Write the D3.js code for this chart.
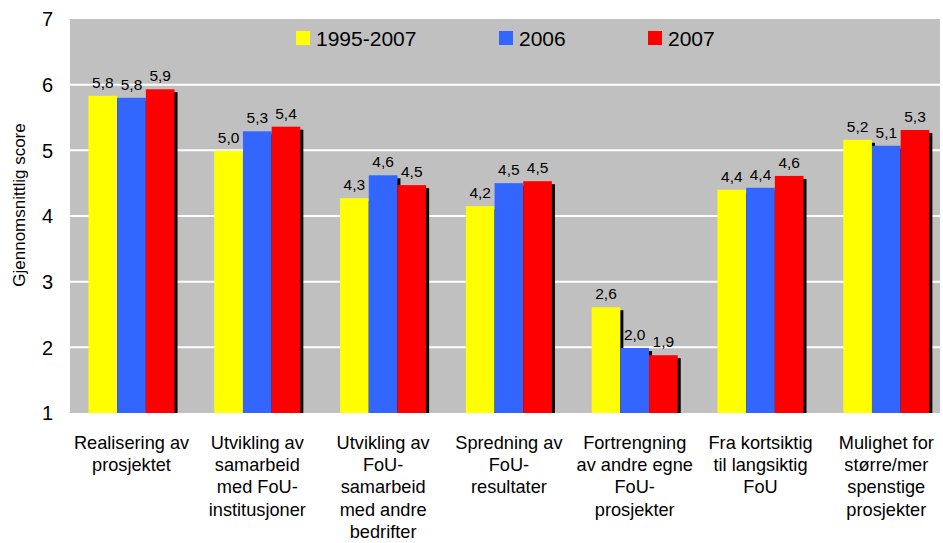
<!DOCTYPE html>
<html>
<head>
<meta charset="utf-8">
<script src="https://cdn.jsdelivr.net/npm/d3@7"></script>
<style>
  body { margin: 0; background: #fff; }
  text { font-family: "Liberation Sans", Arial, sans-serif; fill: #000; }
</style>
</head>
<body>
<div id="chart"></div>
<script>
const categories = [
  ["Realisering av", "prosjektet"],
  ["Utvikling av", "samarbeid", "med FoU-", "institusjoner"],
  ["Utvikling av", "FoU-", "samarbeid", "med andre", "bedrifter"],
  ["Spredning av", "FoU-", "resultater"],
  ["Fortrengning", "av andre egne", "FoU-", "prosjekter"],
  ["Fra kortsiktig", "til langsiktig", "FoU"],
  ["Mulighet for", "større/mer", "spenstige", "prosjekter"]
];
const seriesNames = ["1995-2007", "2006", "2007"];
const seriesColors = ["#ffff00", "#3366ff", "#ff0000"];
const values1995 = [5.83, 4.99, 4.27, 4.15, 2.61, 4.40, 5.16];
const values2006 = [5.80, 5.29, 4.62, 4.50, 1.99, 4.43, 5.07];
const values2007 = [5.93, 5.36, 4.47, 4.53, 1.88, 4.61, 5.31];
const yTicks = [1, 2, 3, 4, 5, 6, 7];

const series = [values1995, values2006, values2007];
const width = 943, height = 543;
const margin = { top: 19, right: 3, bottom: 130, left: 70 };

const svg = d3.select('#chart').append('svg')
  .attr('width', width)
  .attr('height', height);

// category bands run a little past the grey plot area, as in the original
const x = d3.scaleBand()
  .domain(d3.range(categories.length))
  .range([68.6, 949.2])
  .paddingInner(0.316)
  .paddingOuter(0.158);

const xs = d3.scaleBand()
  .domain(d3.range(series.length))
  .range([0, x.bandwidth()]);

const y = d3.scaleLinear()
  .domain([1, 7])
  .range([height - margin.bottom, margin.top]);

// plot background
svg.append('rect')
  .attr('x', margin.left)
  .attr('y', margin.top)
  .attr('width', width - margin.left - margin.right)
  .attr('height', y(1) - y(7))
  .attr('fill', '#c0c0c0');

// gridlines
svg.selectAll('.grid')
  .data(yTicks.filter(t => t > 1 && t < 7))
  .enter().append('line')
  .attr('x1', margin.left)
  .attr('x2', width - margin.right)
  .attr('y1', d => y(d))
  .attr('y2', d => y(d))
  .attr('stroke', '#fff')
  .attr('stroke-width', 2);

// y tick labels
svg.selectAll('.ytick')
  .data(yTicks)
  .enter().append('text')
  .attr('x', 53)
  .attr('y', d => y(d))
  .attr('dy', '0.36em')
  .attr('text-anchor', 'end')
  .style('font-size', '20px')
  .text(d => d);

// y title
svg.append('text')
  .attr('transform', `translate(25, 205) rotate(-90)`)
  .attr('text-anchor', 'middle')
  .style('font-size', '17px')
  .text('Gjennomsnittlig score');

const groups = svg.selectAll('.group')
  .data(categories)
  .enter().append('g')
  .attr('transform', (d, i) => `translate(${x(i)},0)`);

// shadows first, then bars
series.forEach((vals, s) => {
  groups.append('rect')
    .attr('x', (d, i) => xs(s) + 3)
    .attr('y', (d, i) => y(vals[i]) + 3)
    .attr('width', xs.bandwidth())
    .attr('height', (d, i) => y(1) - y(vals[i]) - 3)
    .attr('fill', '#000');
});
series.forEach((vals, s) => {
  groups.append('rect')
    .attr('x', xs(s))
    .attr('y', (d, i) => y(vals[i]))
    .attr('width', xs.bandwidth())
    .attr('height', (d, i) => y(1) - y(vals[i]))
    .attr('fill', seriesColors[s]);
});
series.forEach((vals, s) => {
  groups.append('text')
    .attr('x', xs(s) + xs.bandwidth() / 2)
    .attr('y', (d, i) => y(vals[i]) - 8)
    .attr('text-anchor', 'middle')
    .style('font-size', '15.5px')
    .text((d, i) => d3.format('.1f')(vals[i]).replace('.', ','));
});

// category labels
groups.each(function(lines, i) {
  const t = d3.select(this).append('text')
    .attr('text-anchor', 'middle')
    .style('font-size', '18.2px');
  lines.forEach((line, k) => {
    t.append('tspan')
      .attr('x', x.bandwidth() / 2)
      .attr('y', 449 + k * 22.2)
      .text(line);
  });
});

// legend
const legendX = [296, 499, 648];
seriesNames.forEach((name, s) => {
  svg.append('rect')
    .attr('x', legendX[s])
    .attr('y', 31)
    .attr('width', 14)
    .attr('height', 14)
    .attr('fill', seriesColors[s]);
  svg.append('text')
    .attr('x', legendX[s] + 20)
    .attr('y', 38)
    .attr('dy', '0.36em')
    .style('font-size', '21px')
    .text(name);
});
</script>
</body>
</html>
